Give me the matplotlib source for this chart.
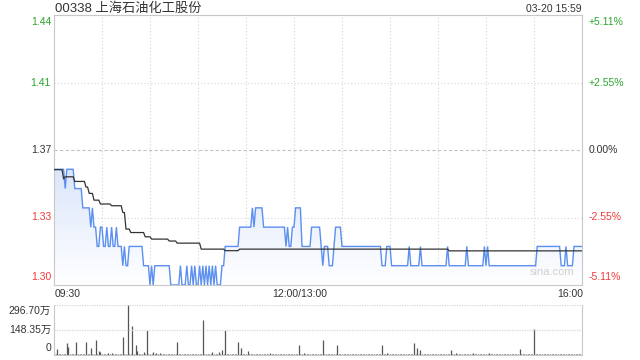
import numpy as np
import matplotlib
matplotlib.use("Agg")
import matplotlib.pyplot as plt
from matplotlib.colors import LinearSegmentedColormap

plt.rcParams['font.family'] = ['Liberation Sans', 'Noto Sans CJK SC', 'DejaVu Sans']

# ---------------- data ----------------
title = "00338 上海石油化工股份"
stamp = "03-20 15:59"
prev_close = 1.37
y_labels_left = ["1.44", "1.41", "1.37", "1.33", "1.30"]
y_labels_right = ["+5.11%", "+2.55%", "0.00%", "-2.55%", "-5.11%"]
x_tick_labels = ["09:30", "12:00/13:00", "16:00"]
vol_labels = ["296.70万", "148.35万", "0"]
vol_max = 296.70

# last price: minute at which price changes, and the new price
price_change_min = [0, 7, 8, 13, 18, 23, 24, 25, 27, 29, 31, 33, 34, 36, 37, 39, 40,
                    43, 44, 45, 47, 56, 60, 61, 62, 63, 73, 79, 80, 83, 84, 86, 87,
                    88, 89, 91, 92, 93, 94, 95, 96, 97, 98, 99, 100, 101, 102, 105,
                    107, 116, 124, 125, 126, 131, 145, 146, 147, 149, 151, 155, 161,
                    167, 168, 169, 172, 175, 176, 180, 205, 208, 211, 222, 223, 229,
                    230, 246, 247, 258, 259, 269, 270, 271, 272, 302, 317, 320, 321,
                    325]
price_change_val = [1.36, 1.35, 1.36, 1.35, 1.34, 1.33, 1.34, 1.33, 1.32, 1.33, 1.32,
                    1.33, 1.32, 1.33, 1.32, 1.33, 1.32, 1.31, 1.32, 1.31, 1.32, 1.31,
                    1.30, 1.31, 1.30, 1.31, 1.30, 1.31, 1.30, 1.31, 1.30, 1.31, 1.30,
                    1.31, 1.30, 1.31, 1.30, 1.31, 1.30, 1.31, 1.30, 1.31, 1.30, 1.31,
                    1.30, 1.31, 1.30, 1.31, 1.32, 1.33, 1.34, 1.33, 1.34, 1.33, 1.32,
                    1.33, 1.32, 1.33, 1.34, 1.32, 1.33, 1.32, 1.31, 1.32, 1.31, 1.32,
                    1.33, 1.32, 1.31, 1.32, 1.31, 1.32, 1.31, 1.32, 1.31, 1.32, 1.31,
                    1.32, 1.31, 1.32, 1.31, 1.32, 1.31, 1.32, 1.31, 1.32, 1.31, 1.32]

# average price: minute at which it changes, and the new value
avg_change_min = [0, 6, 7, 13, 20, 22, 25, 29, 36, 43, 45, 48, 57, 61, 72, 77, 92,
                  107, 116, 247]
avg_change_val = [1.3598, 1.3550, 1.3561, 1.3537, 1.3508, 1.3475, 1.3440, 1.3420,
                  1.3411, 1.3376, 1.3290, 1.3272, 1.3250, 1.3238, 1.3228, 1.3217,
                  1.3186, 1.3178, 1.3186, 1.3177]

# volume per minute (万股)
volume = [
    15, 4, 36, 5, 3, 4, 6, 3, 73, 49, 5, 4, 3, 6, 79, 4, 3, 5, 4, 3, 79, 5, 4, 43, 3, 5, 89, 4, 24, 20,
    6, 4, 3, 5, 12, 4, 14, 3, 5, 4, 3, 6, 4, 109, 5, 8, 297, 6, 4, 174, 5, 59, 24, 6, 4, 3, 20, 5, 148, 6,
    4, 3, 18, 5, 14, 4, 10, 3, 5, 4, 6, 3, 4, 5, 3, 4, 6, 79, 4, 3, 5, 4, 3, 6, 4, 5, 3, 4, 6, 3,
    4, 5, 3, 208, 6, 4, 3, 5, 4, 15, 3, 4, 6, 18, 4, 30, 5, 148, 4, 3, 5, 4, 3, 6, 4, 79, 5, 43, 4, 3,
    5, 24, 4, 3, 6, 4, 5, 3, 4, 3, 5, 4, 6, 3, 4, 12, 5, 3, 4, 6, 3, 4, 5, 3, 4, 6, 3, 5, 4, 3,
    4, 6, 3, 59, 4, 5, 14, 3, 4, 6, 3, 5, 4, 3, 6, 4, 5, 3, 89, 4, 6, 3, 5, 4, 3, 4, 6, 59, 4, 3,
    5, 4, 3, 6, 4, 5, 3, 4, 6, 3, 5, 4, 3, 4, 6, 3, 5, 4, 3, 6, 4, 5, 3, 4, 6, 57, 4, 3, 14, 5,
    3, 4, 6, 3, 5, 4, 3, 6, 4, 5, 3, 4, 6, 3, 5, 73, 4, 43, 6, 30, 4, 3, 5, 4, 6, 3, 4, 5, 3, 6,
    4, 3, 5, 4, 6, 3, 4, 5, 30, 4, 3, 12, 5, 4, 6, 3, 4, 5, 3, 6, 4, 3, 14, 5, 4, 6, 3, 4, 5, 3,
    6, 4, 14, 3, 5, 4, 6, 3, 4, 5, 3, 6, 4, 3, 5, 4, 6, 3, 4, 5, 3, 35, 4, 6, 3, 5, 4, 3, 6, 4,
    154, 5, 3, 4, 6, 3, 5, 4, 3, 6, 4, 5, 3, 4, 6, 3, 5, 4, 3, 6, 4, 5, 3, 4, 6, 3, 5, 4, 3, 6, 4,
]

# ---------------- build series ----------------
n_min = len(volume)
minutes = np.arange(n_min)
price = np.repeat(price_change_val, np.diff([*price_change_min, n_min]))
avg = np.repeat(avg_change_val, np.diff([*avg_change_min, n_min]))
vol = np.array(volume, dtype=float)

W, H = 640, 360
fig = plt.figure(figsize=(W / 100, H / 100), dpi=100)

def fx(px):
    return px / W

def fy(py):
    return 1 - py / H

L, R = 54, 582
T1, B1 = 15, 285
ax = fig.add_axes([fx(L), fy(B1), (R - L) / W, (B1 - T1) / H])
ylo, yhi = 1.30, 1.44
ax.set_xlim(0, n_min - 1)
ax.set_ylim(ylo, yhi)

grid_c = '#d6d6d6'
# vertical grid
for m in range(30, n_min - 1, 30):
    ax.axvline(m, color=grid_c, lw=0.8, ls=(0, (1, 2)), zorder=1)
mid_levels = [ylo + (yhi - ylo) * k / 4 for k in (1, 2, 3)]
for k, lv in enumerate(mid_levels):
    if k == 1:
        ax.axhline(lv, color='#c4c4c4', lw=0.8, ls=(0, (3, 2)), zorder=1)
    else:
        ax.axhline(lv, color=grid_c, lw=0.8, ls=(0, (1, 2)), zorder=1)

# gradient fill under price line
poly = ax.fill_between(minutes, price, ylo, color='none', lw=0)
cmap = LinearSegmentedColormap.from_list('g', ['#ffffff', '#dbe6fa'])
grad = np.linspace(0, 1, 256).reshape(-1, 1)
im = ax.imshow(grad, extent=[0, n_min - 1, ylo, max(price)], aspect='auto',
               origin='lower', cmap=cmap, zorder=2)
im.set_clip_path(poly.get_paths()[0], transform=ax.transData)

ax.plot(minutes, price, color='#5b8ff0', lw=1.0, zorder=4, solid_joinstyle='miter')
ax.plot(minutes, avg, color='#333333', lw=0.9, zorder=5)

for s in ax.spines.values():
    s.set_color('#c8c8c8')
    s.set_linewidth(0.8)
ax.set_xticks([])
ax.set_yticks([])

ax.text(0.985, 0.03, 'sina.com', transform=ax.transAxes, ha='right', va='bottom',
        color='#d0d0d0', fontsize=8)

# left / right labels
green, red, gray = '#2aa52a', '#f03a3a', '#333333'
lab_colors = [green, green, gray, red, red]
ypix = [T1 + (B1 - T1) * k / 4 for k in range(5)]
vas = ['top', 'center', 'center', 'center', 'bottom']
offs = [2, 0, 0, 0, -3]
for lab, labr, c, yp, va, o in zip(y_labels_left, y_labels_right, lab_colors, ypix, vas, offs):
    fig.text(fx(51), fy(yp + o), lab, ha='right', va=va, color=c, fontsize=7.5)
    fig.text(fx(589), fy(yp + o), labr, ha='left', va=va, color=c, fontsize=7.5)

# title and stamp
fig.text(fx(55), fy(9), title, ha='left', va='center', color='#333333', fontsize=9.5)
fig.text(fx(582), fy(9), stamp, ha='right', va='center', color='#333333', fontsize=7.5)

# time labels
fig.text(fx(55), fy(294), x_tick_labels[0], ha='left', va='center', color='#333333', fontsize=7.5)
fig.text(fx(L + (R - L) * 150 / 330 + 6), fy(294), x_tick_labels[1], ha='center', va='center',
         color='#333333', fontsize=7.5)
fig.text(fx(583), fy(294), x_tick_labels[2], ha='right', va='center', color='#333333', fontsize=7.5)

# volume panel
T2, B2 = 305, 355
axv = fig.add_axes([fx(L), fy(B2), (R - L) / W, (B2 - T2) / H])
axv.set_xlim(0, n_min - 1)
axv.set_ylim(0, vol_max)
axv.vlines(minutes, 0, vol, color='#555555', lw=0.9)
axv.axhline(vol_max, color=grid_c, lw=0.9, ls=(0, (1, 1)))
axv.axhline(vol_max / 2, color=grid_c, lw=0.9, ls=(0, (1, 1)))
for k, s in axv.spines.items():
    s.set_color('#c8c8c8')
    s.set_linewidth(0.8)
axv.spines['top'].set_visible(False)
axv.set_xticks([])
axv.set_yticks([])
fig.text(fx(51), fy(T2 + 6), vol_labels[0], ha='right', va='center', color='#333333', fontsize=7.5)
fig.text(fx(51), fy((T2 + B2) / 2), vol_labels[1], ha='right', va='center', color='#333333', fontsize=7.5)
fig.text(fx(51), fy(B2 - 7), vol_labels[2], ha='right', va='center', color='#333333', fontsize=7.5)

fig.savefig('out.png', dpi=100)
